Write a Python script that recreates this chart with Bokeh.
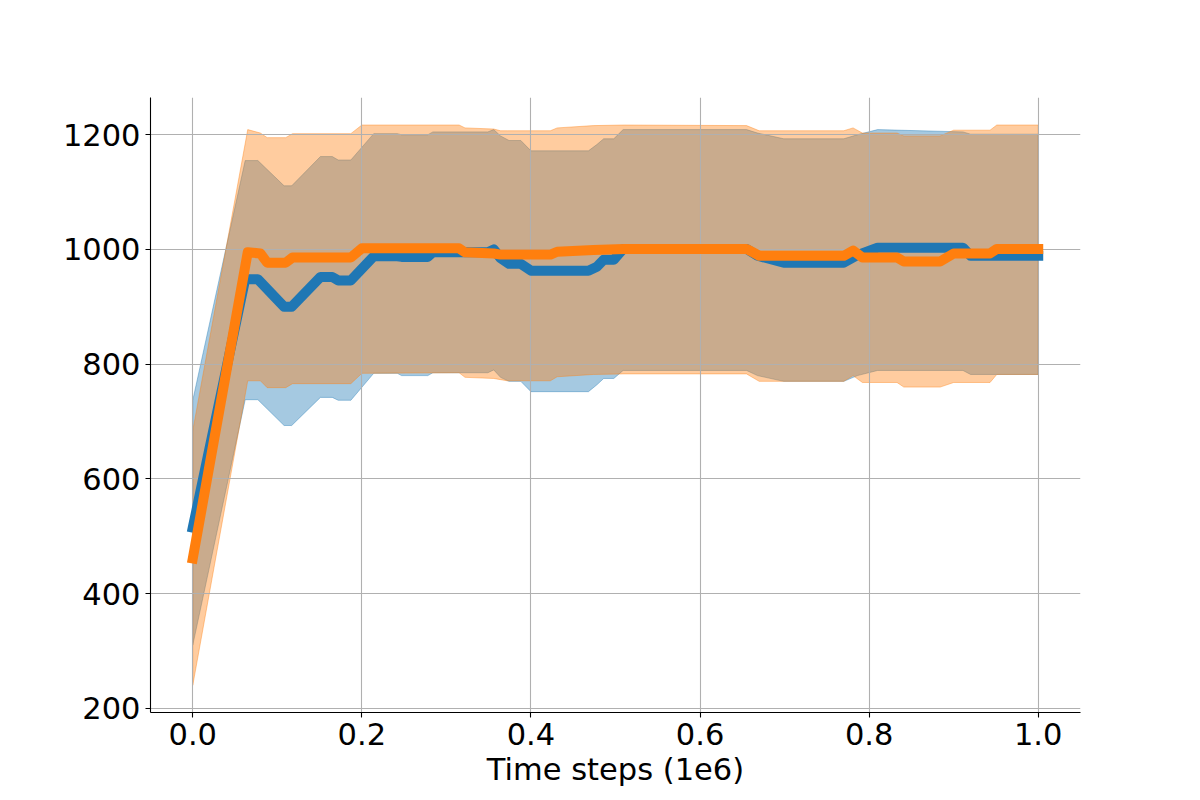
from bokeh.plotting import figure
from bokeh.models import Range1d, FixedTicker, PrintfTickFormatter
from bokeh.embed import file_html
from bokeh.resources import INLINE

# ---- data (time steps in 1e6) ----
blue_x = [0.000, 0.062, 0.077, 0.108, 0.117, 0.151, 0.165, 0.172, 0.187, 0.214,
          0.242, 0.247, 0.278, 0.284, 0.349, 0.356, 0.364, 0.374, 0.388, 0.400,
          0.468, 0.478, 0.486, 0.498, 0.509, 0.655, 0.668, 0.699, 0.770, 0.786,
          0.810, 0.911, 0.920, 1.000]
blue_mean = [515, 948, 948, 900, 900, 952, 952, 946, 946, 988,
             988, 987, 987, 995, 995, 1000, 985, 975, 975, 963,
             963, 970, 982, 982, 1001, 1001, 989, 977, 977, 990,
             1003, 1003, 989, 989]
blue_upper = [737, 1155, 1155, 1111, 1111, 1162, 1162, 1156, 1156, 1202,
              1202, 1200, 1200, 1205, 1205, 1209, 1198, 1190, 1190, 1172,
              1172, 1183, 1193, 1193, 1209, 1209, 1203, 1193, 1193, 1200,
              1209, 1205, 1201, 1201]
blue_lower = [310, 738, 738, 693, 693, 742, 742, 737, 737, 784,
              784, 780, 780, 785, 785, 790, 777, 770, 770, 752,
              752, 764, 775, 775, 789, 789, 780, 770, 770, 780,
              789, 789, 782, 782]

orange_x = [0.000, 0.065, 0.080, 0.088, 0.110, 0.118, 0.187, 0.200, 0.315, 0.322,
            0.356, 0.364, 0.372, 0.423, 0.431, 0.474, 0.510, 0.655, 0.670, 0.770,
            0.781, 0.792, 0.833, 0.841, 0.884, 0.900, 0.943, 0.951, 1.000]
orange_mean = [461, 995, 993, 977, 977, 986, 986, 1002, 1002, 995,
               993, 991, 991, 991, 996, 999, 1001, 1001, 989, 989,
               998, 986, 986, 979, 979, 993, 993, 1001, 1001]
orange_upper = [684, 1209, 1203, 1195, 1195, 1202, 1202, 1217, 1217, 1212,
                1210, 1207, 1207, 1207, 1212, 1216, 1217, 1216, 1207, 1207,
                1212, 1203, 1203, 1198, 1198, 1208, 1208, 1217, 1217]
orange_lower = [240, 771, 771, 759, 759, 766, 766, 784, 785, 777,
                775, 773, 771, 771, 778, 782, 783, 783, 770, 770,
                780, 768, 768, 760, 760, 768, 768, 782, 782]

x_ticks = [0.0, 0.2, 0.4, 0.6, 0.8, 1.0]
y_ticks = [200, 400, 600, 800, 1000, 1200]

BLUE = "#1f77b4"
ORANGE = "#ff7f0e"
FONT = "DejaVu Sans"
FS = "30.5px"

p = figure(width=1200, height=800,
           x_range=Range1d(-0.05, 1.05), y_range=Range1d(192.5, 1265),
           output_backend="svg", toolbar_location=None,
           min_border_left=150, min_border_right=120,
           min_border_top=97, min_border_bottom=88)
p.outline_line_color = None
p.background_fill_color = "white"
p.border_fill_color = "white"

# bands
for xs, up, lo, col in [(blue_x, blue_upper, blue_lower, BLUE),
                        (orange_x, orange_upper, orange_lower, ORANGE)]:
    px = list(xs) + list(xs)[::-1]
    py = list(up) + list(lo)[::-1]
    p.patch(px, py, fill_color=col, fill_alpha=0.4,
            line_color=col, line_alpha=0.4, line_width=1, level="image")

# mean lines
p.line(blue_x, blue_mean, line_color=BLUE, line_width=10,
       line_cap="square", line_join="round")
p.line(orange_x, orange_mean, line_color=ORANGE, line_width=10,
       line_cap="square", line_join="round")

# axes
for ax in (p.xaxis[0], p.yaxis[0]):
    ax.axis_line_color = "black"
    ax.axis_line_width = 1.1
    ax.major_tick_line_color = "black"
    ax.major_tick_line_width = 1.1
    ax.major_tick_out = 5
    ax.major_tick_in = 0
    ax.minor_tick_line_color = None
    ax.major_label_text_font = FONT
    ax.major_label_text_font_size = FS
    ax.major_label_text_color = "black"
    ax.major_label_standoff = 5

p.xaxis[0].ticker = FixedTicker(ticks=x_ticks)
p.xaxis[0].formatter = PrintfTickFormatter(format="%.1f")
p.yaxis[0].ticker = FixedTicker(ticks=y_ticks)
p.xaxis[0].axis_label = "Time steps (1e6)"
p.xaxis[0].axis_label_text_font = FONT
p.xaxis[0].axis_label_text_font_size = FS
p.xaxis[0].axis_label_text_font_style = "normal"
p.xaxis[0].axis_label_text_color = "black"
p.xaxis[0].axis_label_standoff = 4

p.xgrid.ticker = FixedTicker(ticks=x_ticks)
p.ygrid.ticker = FixedTicker(ticks=y_ticks)
for g in (p.xgrid[0], p.ygrid[0]):
    g.grid_line_color = "#b0b0b0"
    g.grid_line_width = 1.1
    g.level = "underlay"

open("out.html", "w").write(file_html(p, INLINE))
